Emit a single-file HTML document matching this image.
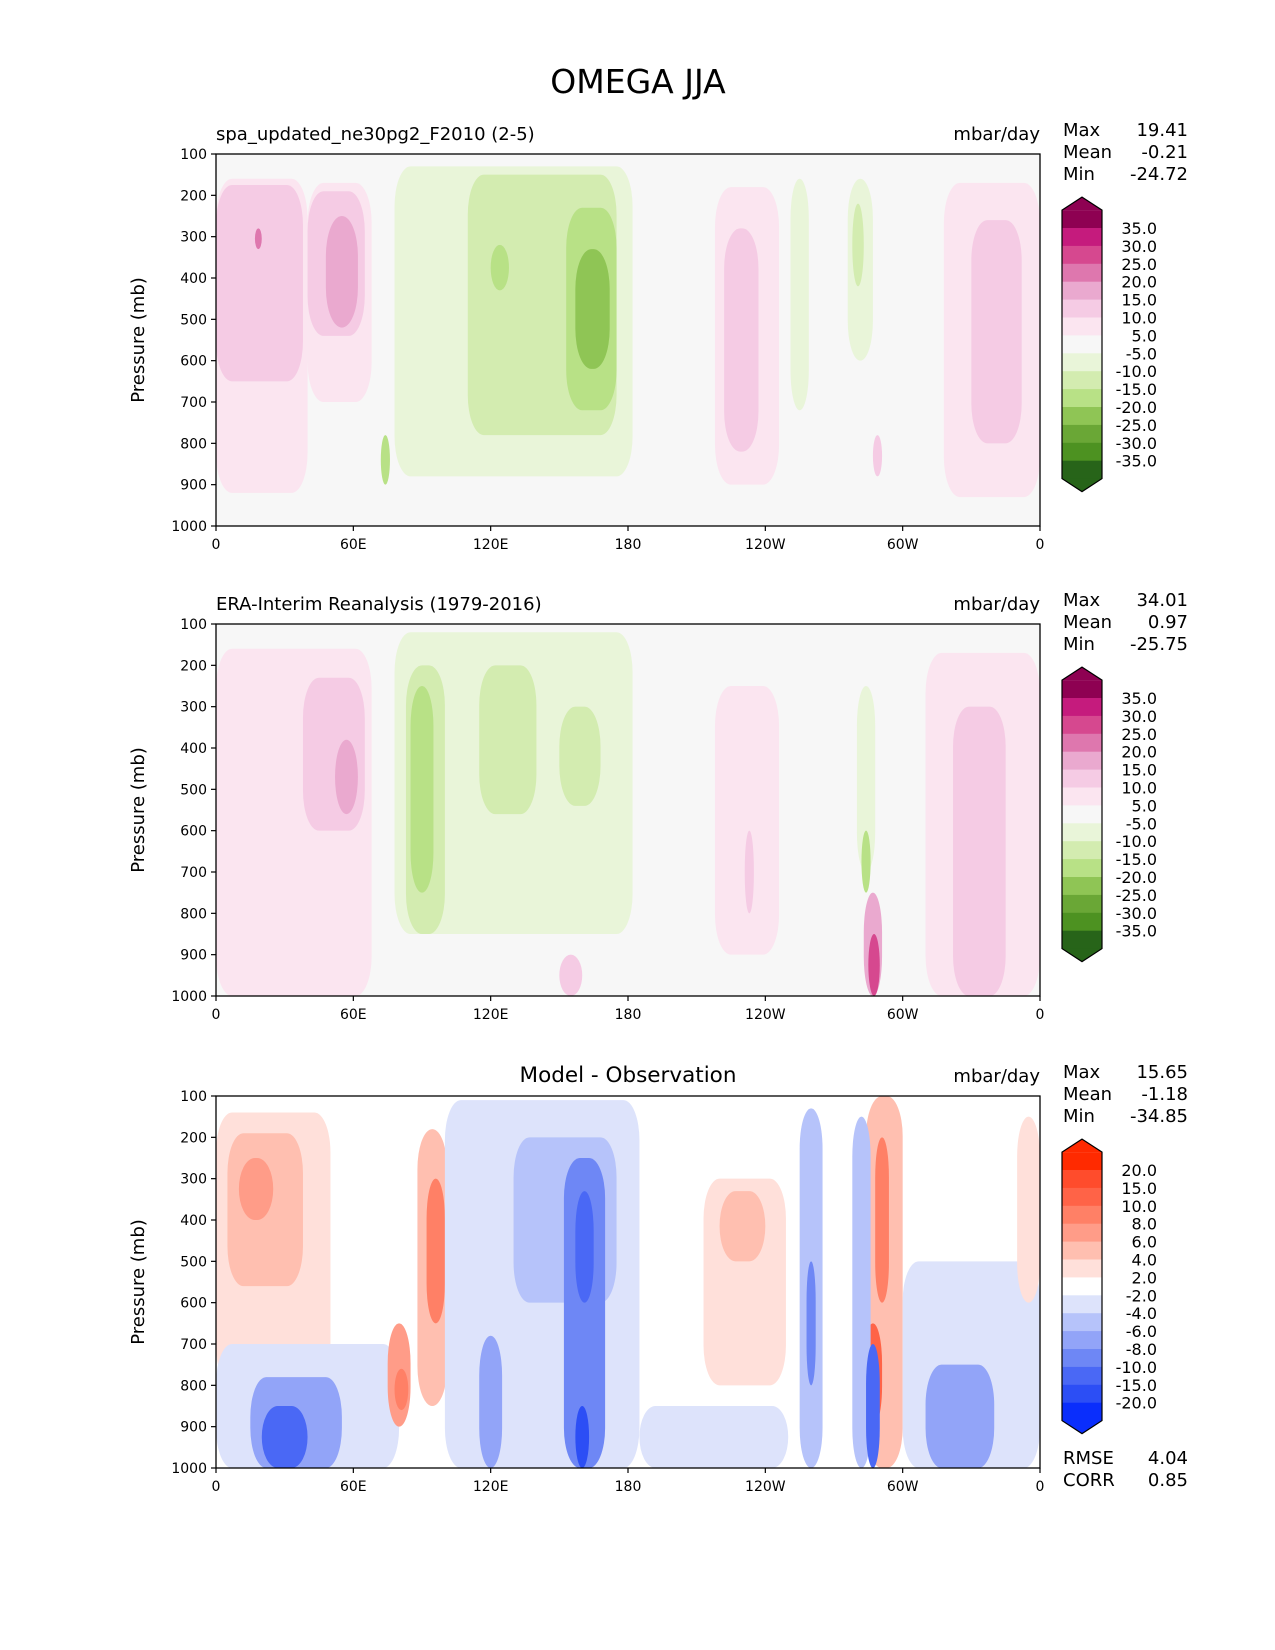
<!DOCTYPE html>
<html><head><meta charset="utf-8"><style>
html,body{margin:0;padding:0;background:#fff;}
svg{display:block;font-family:"DejaVu Sans","Liberation Sans",sans-serif;}
</style></head><body>
<svg id="fig" width="1275" height="1650" viewBox="0 0 1275 1650" xmlns="http://www.w3.org/2000/svg">
<text x="638" y="93" font-size="33" text-anchor="middle" fill="#000">OMEGA JJA</text>
</svg>
<script>
// ---- data ----
const xTickLons = [0, 60, 120, 180, 240, 300, 360];
const xTickLabels = ["0", "60E", "120E", "180", "120W", "60W", "0"];
const yTicks = [100, 200, 300, 400, 500, 600, 700, 800, 900, 1000];
const levelsAbs = [-35, -30, -25, -20, -15, -10, -5, 5, 10, 15, 20, 25, 30, 35];
const levelsDiff = [-20, -15, -10, -8, -6, -4, -2, 2, 4, 6, 8, 10, 15, 20];
const colorsAbs = ["#276419","#4d9221","#6aa736","#8fc555","#b8e186","#d3ecb0","#e9f5d9","#f7f7f7","#fbe5f0","#f5cbe4","#eaa9cf","#de77ae","#d6488f","#c51b7d","#8e0152"];
const colorsDiff = ["#0a2efc","#2c4ef5","#4a68f5","#6e87f5","#92a4f8","#b6c3fa","#dde3fb","#ffffff","#ffe0da","#ffbfb0","#ff9c88","#ff8066","#ff6347","#ff4c2c","#ff2a00"];
// blobs: [lon0, lon1, pTop, pBottom, value]
const blobsModel = [
 [0,40,160,920,7],[40,68,170,700,7],[0,38,175,650,12],[40,65,190,540,12],[48,62,250,520,17],[17,20,280,330,22],
 [78,182,130,880,-7],[110,175,150,780,-12],[120,128,320,430,-17],[153,175,230,720,-17],[157,172,330,620,-22],[72,76,780,900,-17],
 [218,246,180,900,7],[222,237,280,820,12],
 [251,259,160,720,-7],[276,287,160,600,-7],[278,283,220,420,-12],
 [318,360,170,930,7],[330,352,260,800,12],[287,291,780,880,12]
];
const blobsObs = [
 [0,68,160,1000,7],[38,65,230,600,12],[52,62,380,560,17],
 [78,182,120,850,-7],[83,100,200,850,-12],[85,95,250,750,-17],[115,140,200,560,-12],[150,168,300,540,-12],
 [218,246,250,900,7],[231,235,600,800,12],
 [280,288,250,700,-7],[282,286,600,750,-17],[283,291,750,1000,17],[285,290,850,1000,27],
 [310,360,170,1000,7],[322,345,300,1000,12],[150,160,900,1000,12]
];
const blobsDiff = [
 [0,50,140,800,3],[5,38,190,560,5],[10,25,250,400,7],
 [0,80,700,1000,-3],[15,55,780,1000,-7],[20,40,850,1000,-11],
 [75,85,650,900,7],[78,84,760,860,9],
 [88,101,180,850,5],[92,100,300,650,9],
 [100,185,110,1000,-3],[130,175,200,600,-5],[115,125,680,1000,-7],[152,170,250,1000,-9],[157,165,330,600,-13],[157,163,850,1000,-17],
 [213,249,300,800,3],[220,240,330,500,5],
 [185,250,850,1000,-3],
 [255,265,130,1000,-5],[258,262,500,800,-9],
 [284,300,100,1000,5],[288,294,200,600,9],[283,291,650,900,11],
 [278,286,150,1000,-5],[284,290,700,1000,-13],
 [300,360,500,1000,-3],[310,340,750,1000,-7],[350,360,150,600,4]
];
const panelTitles = ["spa_updated_ne30pg2_F2010 (2-5)", "ERA-Interim Reanalysis (1979-2016)", "Model - Observation"];
const statMax = ["19.41", "34.01", "15.65"];
const statMean = ["-0.21", "0.97", "-1.18"];
const statMin = ["-24.72", "-25.75", "-34.85"];

// ---- layout ----
const NS = "http://www.w3.org/2000/svg";
const svg = document.getElementById("fig");
const AX_L = 216, AX_R = 1040, AX_H = 372;
const tops = [154, 624, 1096];
function mk(tag, attrs, parent){ const e = document.createElementNS(NS, tag); for (const k in attrs) e.setAttribute(k, attrs[k]); (parent||svg).appendChild(e); return e; }
function xScale(lon){ return AX_L + lon / 360 * (AX_R - AX_L); }
function colorFor(v, levels, colors){ let i = 0; while (i < levels.length && v > levels[i]) i++; return colors[i]; }

function drawPanel(idx, blobs, levels, colors, bg){
  const top = tops[idx], bot = top + AX_H;
  const yScale = p => top + (p - 100) / 900 * AX_H;
  const g = mk("g", {});
  
  
  const cp = mk("clipPath", {id: "clip" + idx}, g);
  mk("rect", {x: AX_L, y: top, width: AX_R - AX_L, height: AX_H}, cp);
  const bgr = mk("rect", {x: AX_L, y: top, width: AX_R - AX_L, height: AX_H, fill: bg}, g);
  
  
  const cg = mk("g", {"clip-path": "url(#clip" + idx + ")"}, g);
  blobs.forEach(b => {
    const x0 = xScale(b[0]), x1 = xScale(b[1]), y0 = yScale(b[2]), y1 = yScale(b[3]);
    const w = x1 - x0, h = y1 - y0;
    const r = mk("rect", {x: x0, y: y0, width: w, height: h, rx: Math.min(w/2, 16), ry: Math.min(h/2, 40), fill: colorFor(b[4], levels, colors)}, cg);
    
    
  });
  const fr = mk("rect", {x: AX_L, y: top, width: AX_R - AX_L, height: AX_H, fill: "none", stroke: "#000", "stroke-width": 1.3}, g);
  
  
  yTicks.forEach(p => {
    const y = yScale(p);
    mk("line", {x1: AX_L - 5, x2: AX_L, y1: y, y2: y, stroke: "#000", "stroke-width": 1.2}, g);
    const t = mk("text", {x: AX_L - 9, y: y + 5, "font-size": 14, "text-anchor": "end"}, g);
    t.textContent = p;
    
    
  });
  xTickLons.forEach((lon, i) => {
    const x = xScale(lon);
    mk("line", {x1: x, x2: x, y1: bot, y2: bot + 5, stroke: "#000", "stroke-width": 1.2}, g);
    const t = mk("text", {x: x, y: bot + 23, "font-size": 14, "text-anchor": "middle"}, g);
    t.textContent = xTickLabels[i];
    
    
  });
  const yl = mk("text", {x: 0, y: 0, "font-size": 18, "text-anchor": "middle", transform: "translate(144," + (top + AX_H/2) + ") rotate(-90)"}, g);
  yl.textContent = "Pressure (mb)";
  
  
  const tt = idx === 2
    ? mk("text", {x: (AX_L + AX_R)/2, y: top - 14, "font-size": 21.5, "text-anchor": "middle"}, g)
    : mk("text", {x: AX_L, y: top - 14, "font-size": 18}, g);
  tt.textContent = panelTitles[idx];
  
  
  const un = mk("text", {x: AX_R, y: top - 14, "font-size": 18, "text-anchor": "end"}, g);
  un.textContent = "mbar/day";
  
  
  const names = ["Max", "Mean", "Min"], vals = [statMax[idx], statMean[idx], statMin[idx]];
  names.forEach((n, k) => {
    const y = top - 18 + k * 22;
    const a = mk("text", {x: 1063, y: y, "font-size": 18}, g); a.textContent = n;
    
    
    const b = mk("text", {x: 1188, y: y, "font-size": 18, "text-anchor": "end"}, g); b.textContent = vals[k];
    
    
  });
  // colorbar
  const cx0 = 1062, cx1 = 1102, step = 17.9;
  const b0 = top + 74;
  const rTop = b0 - step, rBot = b0 + 13 * step + step;
  const cb = mk("g", {}, g);
  
  
  const n = colors.length;
  for (let k = 0; k < n; k++) {
    const c = colors[n - 1 - k];
    mk("rect", {x: cx0, y: rTop + k * step, width: cx1 - cx0, height: step + 0.5, fill: c}, cb);
  }
  mk("polygon", {points: `${cx0},${rTop} ${(cx0+cx1)/2},${rTop-13} ${cx1},${rTop}`, fill: colors[n-1]}, cb);
  mk("polygon", {points: `${cx0},${rBot} ${(cx0+cx1)/2},${rBot+13} ${cx1},${rBot}`, fill: colors[0]}, cb);
  mk("polygon", {points: `${cx0},${rTop} ${(cx0+cx1)/2},${rTop-13} ${cx1},${rTop} ${cx1},${rBot} ${(cx0+cx1)/2},${rBot+13} ${cx0},${rBot}`, fill: "none", stroke: "#000", "stroke-width": 1.2}, cb);
  for (let k = 0; k < levels.length; k++) {
    const v = levels[levels.length - 1 - k];
    const y = b0 + k * step;
    const t = mk("text", {x: 1157, y: y + 6, "font-size": 16, "text-anchor": "end"}, cb);
    t.textContent = v.toFixed(1);
    
    
  }
}
drawPanel(0, blobsModel, levelsAbs, colorsAbs, "#f7f7f7");
drawPanel(1, blobsObs, levelsAbs, colorsAbs, "#f7f7f7");
drawPanel(2, blobsDiff, levelsDiff, colorsDiff, "#ffffff");
[["RMSE","4.04",1464],["CORR","0.85",1486]].forEach(r => {
  const a = mk("text", {x: 1063, y: r[2], "font-size": 18}); a.textContent = r[0];
  
  
  const b = mk("text", {x: 1188, y: r[2], "font-size": 18, "text-anchor": "end"}); b.textContent = r[1];
  
  
});
</script>
</body></html>
